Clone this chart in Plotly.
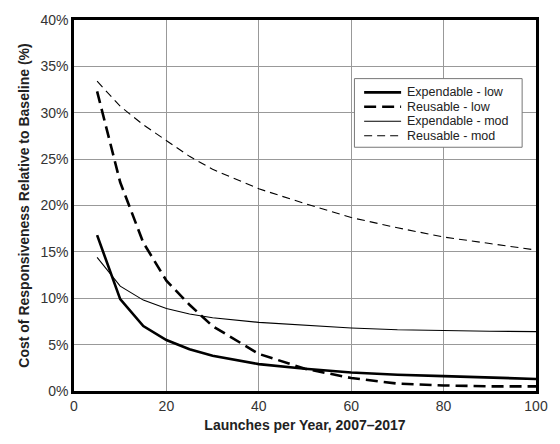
import plotly.graph_objects as go

launches = [5, 10, 15, 20, 25, 30, 40, 50, 60, 70, 80, 90, 100]
expendable_low = [16.8, 9.9, 7.0, 5.5, 4.5, 3.8, 2.9, 2.4, 2.0, 1.75, 1.6, 1.45, 1.3]
reusable_low = [32.3, 22.5, 16.0, 11.9, 9.3, 7.0, 4.0, 2.4, 1.4, 0.8, 0.6, 0.5, 0.5]
expendable_mod = [14.4, 11.3, 9.8, 8.9, 8.3, 7.9, 7.4, 7.1, 6.8, 6.6, 6.5, 6.45, 6.4]
reusable_mod = [33.4, 30.7, 28.7, 27.0, 25.3, 23.9, 21.8, 20.2, 18.7, 17.6, 16.6, 15.9, 15.2]

series = [
    ("Expendable - low", expendable_low, 2.6, "solid"),
    ("Reusable - low", reusable_low, 2.6, "12px,6px"),
    ("Expendable - mod", expendable_mod, 1.1, "solid"),
    ("Reusable - mod", reusable_mod, 1.1, "8px,5px"),
]

fig = go.Figure()
for name, vals, w, dash in series:
    fig.add_trace(go.Scatter(
        x=launches, y=vals, name=name, mode="lines",
        line=dict(color="black", width=w, dash=dash),
    ))

# Compact legend box (paper coordinates)
leg_x0, leg_x1, leg_y0, leg_y1 = 0.607, 0.970, 0.657, 0.842
row_y = [0.805, 0.766, 0.727, 0.688]
sample_x0, sample_x1, text_x = 0.628, 0.708, 0.718
fig.add_shape(type="rect", xref="paper", yref="paper",
              x0=leg_x0, x1=leg_x1, y0=leg_y0, y1=leg_y1,
              line=dict(color="#777", width=1), fillcolor="white", layer="above")
for (name, vals, w, dash), ry in zip(series, row_y):
    fig.add_shape(type="line", xref="paper", yref="paper",
                  x0=sample_x0, x1=sample_x1, y0=ry, y1=ry,
                  line=dict(color="black", width=w, dash=dash), layer="above")
    fig.add_annotation(xref="paper", yref="paper", x=text_x, y=ry,
                       text=name, showarrow=False, xanchor="left", yanchor="middle",
                       borderpad=0, font=dict(size=12.5, color="#222"))

font_family = "Liberation Sans, Arial, sans-serif"
fig.update_layout(
    width=560, height=444,
    margin=dict(l=74, r=23, t=16, b=53),
    paper_bgcolor="white", plot_bgcolor="white",
    font=dict(family=font_family, size=13, color="#222"),
    showlegend=False,
)
fig.update_xaxes(
    range=[0, 100], tickvals=[0, 20, 40, 60, 80, 100],
    showgrid=True, gridcolor="#999", gridwidth=1,
    showline=True, linecolor="black", linewidth=2.5, mirror=True,
    zeroline=False, ticks="", ticklen=0,
    tickfont=dict(size=14, color="#333"),
    title=dict(text="<b>Launches per Year, 2007–2017</b>", font=dict(size=14, color="#222"), standoff=8),
)
fig.update_yaxes(
    range=[0, 40], tickvals=[0, 5, 10, 15, 20, 25, 30, 35, 40],
    ticktext=[f"{v}%" for v in [0, 5, 10, 15, 20, 25, 30, 35, 40]],
    showgrid=True, gridcolor="#999", gridwidth=1,
    showline=True, linecolor="black", linewidth=2.5, mirror=True,
    zeroline=False, ticks="", ticklen=0,
    tickfont=dict(size=14, color="#333"),
    title=dict(text="<b>Cost of Responsiveness Relative to Baseline (%)</b>", font=dict(size=14, color="#222"), standoff=8),
)
fig.write_html("out.html")
